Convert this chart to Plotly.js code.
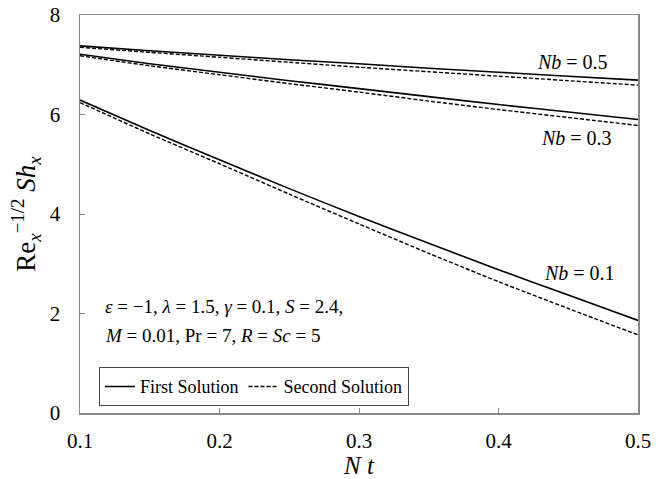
<!DOCTYPE html>
<html>
<head>
<meta charset="utf-8">
<script src="https://cdn.plot.ly/plotly-3.0.1.min.js"></script>
<style>html,body{margin:0;padding:0;background:#fff;}#chart{width:666px;height:479px;}</style>
</head>
<body>
<div id="chart"></div>
<script>
// Data
const nt = [0.1, 0.15, 0.2, 0.25, 0.3, 0.35, 0.4, 0.45, 0.5];
const nb01First  = [6.29, 5.68, 5.09, 4.51, 3.95, 3.41, 2.88, 2.37, 1.86];
const nb01Second = [6.24, 5.61, 5.01, 4.40, 3.80, 3.21, 2.64, 2.10, 1.57];
const nb03First  = [7.21, 7.02, 6.85, 6.68, 6.52, 6.36, 6.20, 6.05, 5.90];
const nb03Second = [7.18, 6.98, 6.80, 6.62, 6.45, 6.27, 6.10, 5.94, 5.78];
const nb05First  = [7.38, 7.28, 7.19, 7.10, 7.02, 6.93, 6.85, 6.77, 6.69];
const nb05Second = [7.35, 7.25, 7.15, 7.05, 6.95, 6.86, 6.77, 6.68, 6.59];
const legendNames = ['First Solution', 'Second Solution'];
const nbLabels = ['<i>Nb</i> = 0.5', '<i>Nb</i> = 0.3', '<i>Nb</i> = 0.1'];
const xTicks = [0.1, 0.2, 0.3, 0.4, 0.5];
const xTickText = ['0.1', '0.2', '0.3', '0.4', '0.5'];
const yTicks = [0, 2, 4, 6, 8];

const FONT = 'Liberation Serif, Times New Roman, serif';
const solid = {color: '#000', width: 1.6, dash: 'solid'};
const dashed = {color: '#000', width: 1.4, dash: '4px,2px'};

function tr(y, line, name, show) {
  return {x: nt, y: y, mode: 'lines',
          line: {color: line.color, width: line.width, dash: line.dash, shape: 'spline', smoothing: 0.6},
          name: name, showlegend: show, hoverinfo: 'skip'};
}
const data = [
  tr(nb01First, solid, legendNames[0], true),
  tr(nb01Second, dashed, legendNames[1], true),
  tr(nb03First, solid, legendNames[0], false),
  tr(nb03Second, dashed, legendNames[1], false),
  tr(nb05First, solid, legendNames[0], false),
  tr(nb05Second, dashed, legendNames[1], false)
];

const layout = {
  width: 666, height: 479,
  margin: {l: 80, r: 28, t: 15, b: 66},
  paper_bgcolor: '#fff', plot_bgcolor: '#fff',
  font: {family: FONT, color: '#000', size: 20},
  showlegend: true,
  legend: {
    orientation: 'h', x: 0.034, y: 0.115, xanchor: 'left', yanchor: 'top',
    bordercolor: '#444', borderwidth: 1, bgcolor: '#fff',
    font: {family: FONT, size: 18, color: '#000'},
    itemwidth: 30, tracegroupgap: 0
  },
  xaxis: {
    range: [0.1, 0.5], tickmode: 'array', tickvals: xTicks, ticktext: xTickText,
    ticks: 'inside', ticklen: 5, tickcolor: '#888', tickwidth: 1,
    showline: true, linecolor: '#888', linewidth: 1.5, mirror: true,
    showgrid: false, zeroline: false,
    tickfont: {family: FONT, size: 21, color: '#000'},
    ticklabelstandoff: 8,
    title: {text: '<i>N t</i>', font: {family: FONT, size: 25, color: '#000'}, standoff: 4}
  },
  yaxis: {
    range: [0, 8], tickmode: 'array', tickvals: yTicks,
    ticks: 'inside', ticklen: 5, tickcolor: '#888', tickwidth: 1,
    showline: true, linecolor: '#888', linewidth: 1.5, mirror: true,
    showgrid: false, zeroline: false,
    tickfont: {family: FONT, size: 21, color: '#000'},
    ticklabelstandoff: 14,
    title: {text: 'Re<sub><i>x</i></sub><sup>−1/2</sup> <i>Sh</i><sub><i>x</i></sub>',
            font: {family: FONT, size: 27, color: '#000'}, standoff: 6}
  },
  annotations: [
    {x: 0.453, y: 7.06, text: nbLabels[0], showarrow: false, font: {family: FONT, size: 20}},
    {x: 0.456, y: 5.52, text: nbLabels[1], showarrow: false, font: {family: FONT, size: 20}},
    {x: 0.458, y: 2.82, text: nbLabels[2], showarrow: false, font: {family: FONT, size: 20}},
    {x: 0.1165, y: 2.15, xanchor: 'left', text: '<i>ε</i> = −1, <i>λ</i> = 1.5, <i>γ</i> = 0.1, <i>S</i> = 2.4,',
     showarrow: false, font: {family: FONT, size: 19}},
    {x: 0.1165, y: 1.55, xanchor: 'left', text: '<i>M</i> = 0.01, Pr = 7, <i>R</i> = <i>Sc</i> = 5',
     showarrow: false, font: {family: FONT, size: 19}}
  ]
};

Plotly.newPlot('chart', data, layout, {staticPlot: true, displayModeBar: false});
</script>
</body>
</html>
